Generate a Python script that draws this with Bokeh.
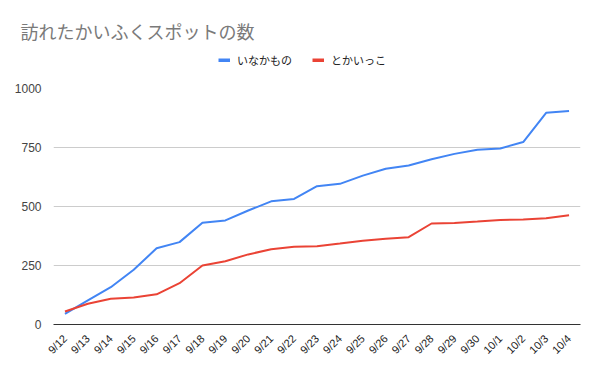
import math
from bokeh.plotting import figure
from bokeh.layouts import column
from bokeh.models import Range1d, Legend, LegendItem, FixedTicker, Label
from bokeh.embed import file_html
from bokeh.resources import INLINE

dates = ["9/12", "9/13", "9/14", "9/15", "9/16", "9/17", "9/18", "9/19", "9/20",
         "9/21", "9/22", "9/23", "9/24", "9/25", "9/26", "9/27", "9/28", "9/29",
         "9/30", "10/1", "10/2", "10/3", "10/4"]
inakamono = [45, 102, 158, 232, 323, 349, 431, 441, 483, 522, 532, 586, 596, 631,
             660, 674, 700, 723, 740, 746, 773, 897, 905]
tokaikko = [55, 88, 109, 114, 128, 175, 250, 268, 297, 319, 329, 332, 343, 355,
            363, 370, 428, 430, 436, 443, 445, 450, 463]
y_ticks = [0, 250, 500, 750, 1000]

title_text = "訪れたかいふくスポットの数"
series_names = ["いなかもの", "とかいっこ"]
colors = ["#4285F4", "#EA4335"]

# ---------- header (title + legend) ----------
# the series are drawn here with a y range that keeps them out of view,
# only so that the legend can show their swatches
hdr = figure(width=600, height=82, x_range=dates, y_range=Range1d(2000, 3000),
             output_backend="svg", toolbar_location=None, title=None,
             x_axis_type=None, y_axis_type=None, min_border=0)
hdr.frame_align = False
hdr.outline_line_color = None
hdr.xgrid.grid_line_color = None
hdr.ygrid.grid_line_color = None

h1 = hdr.line(dates, inakamono, line_color=colors[0], line_width=4)
h2 = hdr.line(dates, tokaikko, line_color=colors[1], line_width=4)

hdr.add_layout(Label(x=20, y=52, x_units="screen", y_units="screen",
                     text=title_text, text_font="Noto Sans CJK JP",
                     text_font_size="18px", text_color="#7a7a7a",
                     text_baseline="middle", text_align="left"))

legend = Legend(items=[LegendItem(label=series_names[0], renderers=[h1]),
                       LegendItem(label=series_names[1], renderers=[h2])],
                orientation="horizontal", location=(218, 14),
                glyph_width=12, glyph_height=4, label_standoff=7, spacing=20,
                padding=0, margin=0, border_line_color=None,
                background_fill_alpha=0,
                label_text_font="Noto Sans CJK JP", label_text_font_size="11px",
                label_text_color="#222222", label_height=14)
hdr.add_layout(legend, "center")

# ---------- main chart ----------
p = figure(width=600, height=289, x_range=dates, y_range=Range1d(0, 1000),
           output_backend="svg", toolbar_location=None, title=None,
           min_border_left=53, min_border_right=20, min_border_top=6,
           min_border_bottom=47)
p.frame_align = False
p.x_range.range_padding = 0
p.outline_line_color = None

p.line(dates, inakamono, line_color=colors[0], line_width=2)
p.line(dates, tokaikko, line_color=colors[1], line_width=2)

p.xgrid.grid_line_color = None
p.ygrid.grid_line_color = "#cccccc"
p.ygrid.ticker = FixedTicker(ticks=y_ticks)

p.yaxis.ticker = FixedTicker(ticks=y_ticks)
p.yaxis.axis_line_color = None
p.yaxis.major_tick_line_color = None
p.yaxis.minor_tick_line_color = None
p.yaxis.major_label_text_font = "Liberation Sans"
p.yaxis.major_label_text_font_size = "12px"
p.yaxis.major_label_text_color = "#444444"
p.yaxis.major_label_standoff = 6

p.xaxis.axis_line_color = "#333333"
p.xaxis.major_tick_line_color = None
p.xaxis.minor_tick_line_color = None
p.xaxis.major_label_orientation = math.pi / 4
p.xaxis.major_label_text_font = "Liberation Sans"
p.xaxis.major_label_text_font_size = "11px"
p.xaxis.major_label_text_color = "#222222"
p.xaxis.major_label_standoff = 6

layout = column(hdr, p, spacing=0)
open("out.html", "w").write(file_html(layout, INLINE))
